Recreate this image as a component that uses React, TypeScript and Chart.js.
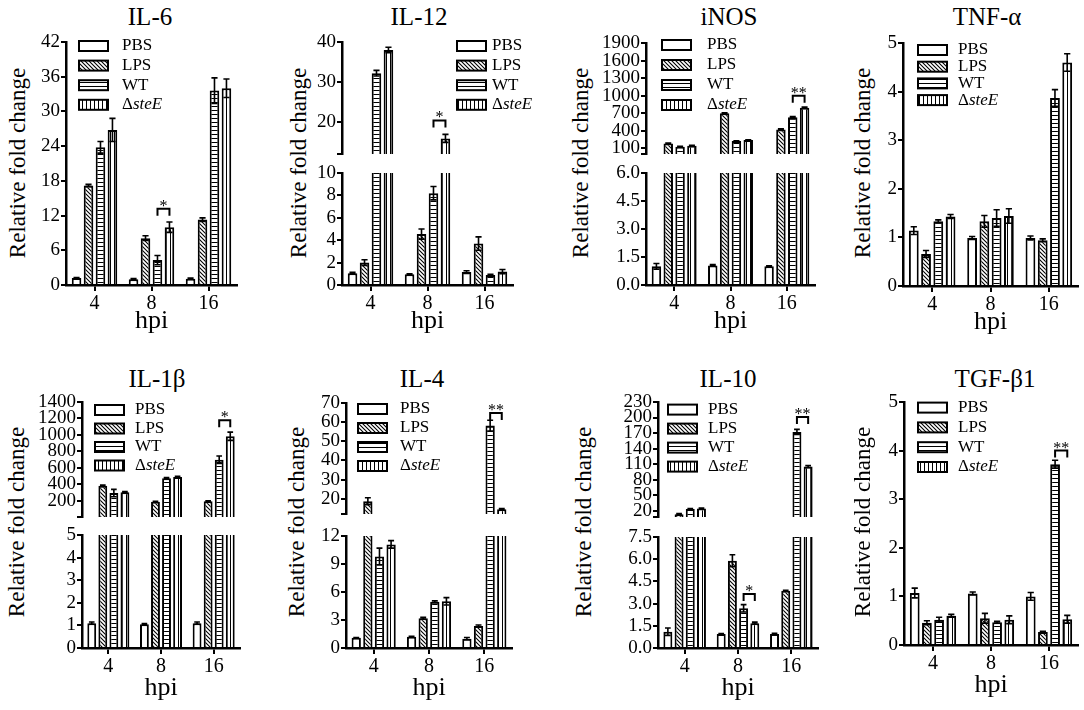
import React, { useEffect, useRef } from 'react';
import { Chart, registerables } from 'chart.js';

Chart.register(...registerables);

const FONT = "'Liberation Serif', 'Tinos', 'Times New Roman', 'DejaVu Serif', serif";
Chart.defaults.font.family = FONT;
Chart.defaults.color = '#000';

const hpi = ['4', '8', '16'];
const groups = ['PBS', 'LPS', 'WT', 'ΔsteE'];

// rows: PBS, LPS, WT, ΔsteE  -  columns: 4, 8, 16 hpi
const il6Means = [[1.2, 1.0, 1.1], [17.2, 8.1, 11.3], [23.8, 4.3, 33.6], [26.8, 10.0, 34.0]];
const il6Errors = [[0.1, 0.1, 0.1], [0.2, 0.4, 0.3], [1.0, 0.8, 2.2], [2.0, 0.9, 1.6]];
const il6Ticks = [0, 6, 12, 18, 24, 30, 36, 42];
const il6Sig = [{ group: 1, at: 13.2, mark: '*' }];

const il12Means = [[1.05, 0.95, 1.15], [2.0, 4.55, 3.7], [32.2, 8.2, 0.9], [38.0, 15.9, 1.2]];
const il12Errors = [[0.08, 0.05, 0.12], [0.25, 0.45, 0.6], [0.7, 0.6, 0.05], [0.7, 1.0, 0.18]];
const il12TopTicks = [20, 30, 40];
const il12BottomTicks = [0, 2, 4, 6, 8, 10];
const il12Sig = [{ group: 1, at: 20.4, mark: '*' }];

const inosMeans = [[1.0, 1.05, 1.0], [186, 700, 426], [130, 226, 631], [148, 243, 797]];
const inosErrors = [[0.15, 0.04, 0.03], [6, 10, 10], [6, 5, 12], [6, 5, 10]];
const inosTopTicks = [100, 400, 700, 1000, 1300, 1600, 1900];
const inosBottomTicks = [0, 1.5, 3.0, 4.5, 6.0];
const inosSig = [{ group: 2, at: 1000, mark: '**' }];

const tnfMeans = [[1.14, 0.99, 0.99], [0.66, 1.33, 0.94], [1.33, 1.40, 3.87], [1.43, 1.44, 4.60]];
const tnfErrors = [[0.08, 0.03, 0.04], [0.07, 0.12, 0.03], [0.03, 0.17, 0.17], [0.04, 0.15, 0.18]];
const tnfTicks = [0, 1, 2, 3, 4, 5];

const il1bMeans = [[1.1, 1.05, 1.1], [385, 190, 195], [295, 475, 700], [305, 490, 985]];
const il1bErrors = [[0.05, 0.03, 0.05], [8, 5, 5], [45, 10, 45], [8, 8, 50]];
const il1bTopTicks = [200, 400, 600, 800, 1000, 1200, 1400];
const il1bBottomTicks = [0, 1, 2, 3, 4, 5];
const il1bSig = [{ group: 2, at: 1180, mark: '*' }];

const il4Means = [[1.1, 1.2, 1.0], [18.7, 3.2, 2.35], [9.8, 4.95, 58.2], [11.1, 5.0, 14.5]];
const il4Errors = [[0.03, 0.05, 0.12], [1.8, 0.1, 0.12], [0.9, 0.1, 2.8], [0.4, 0.4, 0.3]];
const il4TopTicks = [20, 30, 40, 50, 60, 70];
const il4BottomTicks = [0, 3, 6, 9, 12];
const il4Sig = [{ group: 2, at: 64.8, mark: '**' }];

const il10Means = [[1.1, 0.95, 0.95], [13, 5.9, 3.87], [23, 2.68, 172], [24, 1.68, 105]];
const il10Errors = [[0.25, 0.03, 0.05], [1, 0.4, 0.03], [1, 0.25, 5], [1, 0.07, 2]];
const il10TopTicks = [20, 50, 80, 110, 140, 170, 200, 230];
const il10BottomTicks = [0, 1.5, 3.0, 4.5, 6.0, 7.5];
const il10Sig = [{ group: 1, at: 3.65, mark: '*' }, { group: 2, at: 201, mark: '**' }];

const tgfMeans = [[1.07, 1.06, 1.0], [0.46, 0.55, 0.27], [0.52, 0.47, 3.72], [0.60, 0.52, 0.53]];
const tgfErrors = [[0.1, 0.03, 0.08], [0.04, 0.1, 0.01], [0.05, 0.02, 0.08], [0.03, 0.08, 0.08]];
const tgfTicks = [0, 1, 2, 3, 4, 5];
const tgfSig = [{ group: 2, at: 4.0, mark: '**' }];

type Sig = { group: number; at: number; mark: string };
type Seg = { ticks: number[]; floor?: number; decimals?: number; top: number; bottom: number };
type Legend = { dx: number; dy: number; gap: number; textDx: number };
type Panel = {
  title: string; tx: number; ty: number; yx: number; yy: number;
  axisX: number; right: number; xH: number;
  means: number[][]; errors: number[][]; sig: Sig[]; segs: Seg[]; legend: Legend;
};

const Y_W = 58;
const PAD_T = 14;
const PAD_B = 14;
const PAD_R = 34;

const panels: Panel[] = [
  {
    title: 'IL-6', tx: 150, ty: 16, yx: 17, yy: 163, axisX: 66, right: 237, xH: 52,
    means: il6Means, errors: il6Errors, sig: il6Sig,
    segs: [{ ticks: il6Ticks, top: 42, bottom: 285 }],
    legend: { dx: 13, dy: 4, gap: 19.6, textDx: 43 },
  },
  {
    title: 'IL-12', tx: 419, ty: 16, yx: 298, yy: 163, axisX: 342, right: 513, xH: 52,
    means: il12Means, errors: il12Errors, sig: il12Sig,
    segs: [
      { ticks: il12TopTicks, floor: 12, top: 42, bottom: 154 },
      { ticks: il12BottomTicks, top: 173, bottom: 285 },
    ],
    legend: { dx: 115, dy: 4, gap: 19.6, textDx: 35 },
  },
  {
    title: 'iNOS', tx: 729, ty: 16, yx: 580, yy: 163, axisX: 646, right: 815, xH: 52,
    means: inosMeans, errors: inosErrors, sig: inosSig,
    segs: [
      { ticks: inosTopTicks, floor: 6, top: 43, bottom: 154 },
      { ticks: inosBottomTicks, decimals: 1, top: 173, bottom: 285 },
    ],
    legend: { dx: 16, dy: 2, gap: 20, textDx: 45 },
  },
  {
    title: 'TNF-α', tx: 987, ty: 16, yx: 862, yy: 163, axisX: 903, right: 1078, xH: 52,
    means: tnfMeans, errors: tnfErrors, sig: [],
    segs: [{ ticks: tnfTicks, top: 43, bottom: 286 }],
    legend: { dx: 15, dy: 7, gap: 16.7, textDx: 40 },
  },
  {
    title: 'IL-1β', tx: 157, ty: 378, yx: 16, yy: 522, axisX: 82, right: 240, xH: 56,
    means: il1bMeans, errors: il1bErrors, sig: il1bSig,
    segs: [
      { ticks: il1bTopTicks, floor: 5, top: 402, bottom: 517 },
      { ticks: il1bBottomTicks, top: 535, bottom: 648 },
    ],
    legend: { dx: 13, dy: 8, gap: 18.5, textDx: 40 },
  },
  {
    title: 'IL-4', tx: 422, ty: 378, yx: 296, yy: 522, axisX: 346, right: 512, xH: 56,
    means: il4Means, errors: il4Errors, sig: il4Sig,
    segs: [
      { ticks: il4TopTicks, floor: 12, top: 403, bottom: 514 },
      { ticks: il4BottomTicks, top: 536, bottom: 648 },
    ],
    legend: { dx: 12, dy: 6, gap: 19, textDx: 42 },
  },
  {
    title: 'IL-10', tx: 728, ty: 378, yx: 583, yy: 522, axisX: 658, right: 818, xH: 56,
    means: il10Means, errors: il10Errors, sig: il10Sig,
    segs: [
      { ticks: il10TopTicks, floor: 7.5, top: 402, bottom: 517 },
      { ticks: il10BottomTicks, decimals: 1, top: 537, bottom: 648 },
    ],
    legend: { dx: 10, dy: 7.6, gap: 19, textDx: 40 },
  },
  {
    title: 'TGF-β1', tx: 995, ty: 378, yx: 862, yy: 522, axisX: 904, right: 1078, xH: 56,
    means: tgfMeans, errors: tgfErrors, sig: tgfSig,
    segs: [{ ticks: tgfTicks, top: 402, bottom: 645 }],
    legend: { dx: 14, dy: 5.6, gap: 19.8, textDx: 40 },
  },
];

// white, diagonal, horizontal, vertical hatching
function makeFill(kind: number): CanvasPattern | string {
  if (kind === 0) return '#fff';
  const c = document.createElement('canvas');
  c.width = 4;
  c.height = 4;
  const g = c.getContext('2d')!;
  g.fillStyle = '#fff';
  g.fillRect(0, 0, 4, 4);
  g.fillStyle = '#000';
  g.strokeStyle = '#000';
  if (kind === 1) {
    g.lineWidth = 1.1;
    g.beginPath();
    g.moveTo(-1, -1); g.lineTo(5, 5);
    g.moveTo(-1, 3); g.lineTo(1, 5);
    g.moveTo(3, -1); g.lineTo(5, 1);
    g.stroke();
  } else if (kind === 2) {
    g.fillRect(0, 2, 4, 1);
  } else {
    g.fillRect(2, 0, 1, 4);
  }
  return g.createPattern(c, 'repeat')!;
}

function SegmentChart({ panel, seg, showX, withLegend }: { panel: Panel; seg: Seg; showX: boolean; withLegend: boolean }) {
  const ref = useRef<HTMLCanvasElement>(null);
  const left = panel.axisX - Y_W;
  const top = seg.top - PAD_T;
  const width = panel.right - panel.axisX + Y_W + PAD_R;
  const height = PAD_T + (seg.bottom - seg.top) + (showX ? panel.xH : PAD_B);

  useEffect(() => {
    const canvas = ref.current;
    if (!canvas) return;
    const fills = [0, 1, 2, 3].map(makeFill);
    const lo = seg.floor ?? seg.ticks[0];
    const hi = seg.ticks[seg.ticks.length - 1];
    const tickVals = seg.floor !== undefined ? [seg.floor, ...seg.ticks] : seg.ticks;
    const sigs = panel.sig.filter((s) => s.at >= lo && s.at <= hi);

    const marks = {
      id: 'marks',
      afterDatasetsDraw(chart: any) {
        const { ctx, chartArea } = chart;
        const y = chart.scales.y;
        ctx.save();
        ctx.beginPath();
        ctx.rect(chartArea.left, chartArea.top, chartArea.right - chartArea.left, chartArea.bottom - chartArea.top);
        ctx.clip();
        ctx.strokeStyle = '#000';
        ctx.lineWidth = 1.6;
        panel.means.forEach((row, i) => {
          const meta = chart.getDatasetMeta(i);
          row.forEach((m, j) => {
            const bar = meta.data[j];
            if (!bar || m <= lo) return;
            const e = panel.errors[i][j];
            const yHi = y.getPixelForValue(m + e);
            const yLo = y.getPixelForValue(m - e);
            const half = bar.width * 0.32;
            ctx.beginPath();
            ctx.moveTo(bar.x, yLo);
            ctx.lineTo(bar.x, yHi);
            ctx.moveTo(bar.x - half, yHi);
            ctx.lineTo(bar.x + half, yHi);
            ctx.moveTo(bar.x - half, yLo);
            ctx.lineTo(bar.x + half, yLo);
            ctx.stroke();
          });
        });
        ctx.restore();

        ctx.save();
        ctx.strokeStyle = '#000';
        ctx.fillStyle = '#000';
        ctx.lineWidth = 2;
        sigs.forEach((s) => {
          const a = chart.getDatasetMeta(2).data[s.group];
          const b = chart.getDatasetMeta(3).data[s.group];
          const py = y.getPixelForValue(s.at);
          ctx.beginPath();
          ctx.moveTo(a.x, py + 7);
          ctx.lineTo(a.x, py);
          ctx.lineTo(b.x, py);
          ctx.lineTo(b.x, py + 7);
          ctx.stroke();
          ctx.font = `16px ${FONT}`;
          ctx.textAlign = 'center';
          ctx.textBaseline = 'alphabetic';
          ctx.fillText(s.mark, (a.x + b.x) / 2, py + 2);
        });
        ctx.restore();
      },
      afterDraw(chart: any) {
        if (!withLegend) return;
        const { ctx, chartArea } = chart;
        const lg = panel.legend;
        const x0 = chartArea.left + lg.dx;
        ctx.save();
        groups.forEach((name, i) => {
          const yc = chartArea.top + lg.dy + i * lg.gap;
          ctx.fillStyle = fills[i];
          ctx.fillRect(x0, yc - 5, 29, 10);
          ctx.strokeStyle = '#000';
          ctx.lineWidth = 2;
          ctx.strokeRect(x0, yc - 5, 29, 10);
          ctx.fillStyle = '#000';
          ctx.textAlign = 'left';
          ctx.textBaseline = 'middle';
          const tx = x0 + lg.textDx;
          if (name.startsWith('Δ')) {
            ctx.font = `17px ${FONT}`;
            ctx.fillText('Δ', tx, yc);
            const w = ctx.measureText('Δ').width;
            ctx.font = `italic 17px ${FONT}`;
            ctx.fillText(name.slice(1), tx + w, yc);
          } else {
            ctx.font = `17px ${FONT}`;
            ctx.fillText(name, tx, yc);
          }
        });
        ctx.restore();
      },
    };

    const chart = new Chart(canvas, {
      type: 'bar',
      data: {
        labels: hpi,
        datasets: groups.map((g, i) => ({
          label: g,
          // a segment above the axis break only shows bars that reach into it
          data: panel.means[i].map((v) => (v > lo ? v : null)),
          backgroundColor: fills[i],
          borderColor: '#000',
          borderWidth: 2,
          inflateAmount: 0,
          clip: 0,
          categoryPercentage: 0.84,
          barPercentage: 0.8,
        })),
      },
      options: {
        animation: false,
        responsive: false,
        events: [],
        layout: { padding: { top: PAD_T, bottom: showX ? 0 : PAD_B, left: 0, right: PAD_R } },
        plugins: { legend: { display: false }, tooltip: { enabled: false } },
        scales: {
          x: {
            display: showX,
            offset: true,
            grid: { offset: false, drawOnChartArea: false, drawTicks: true, tickLength: 6, color: '#000', lineWidth: 2 },
            border: { display: true, color: '#000', width: 2.5 },
            ticks: { font: { size: 20 }, color: '#000', padding: 1, maxRotation: 0, autoSkip: false },
            title: { display: true, text: 'hpi', font: { size: 26 }, color: '#000', padding: 0 },
            afterFit: (s: any) => { if (showX) s.height = panel.xH; },
          },
          y: {
            min: lo,
            max: hi,
            afterBuildTicks: (s: any) => { s.ticks = tickVals.map((v) => ({ value: v })); },
            afterFit: (s: any) => { s.width = Y_W; },
            grid: { drawOnChartArea: false, drawTicks: true, tickLength: 5, color: '#000', lineWidth: 2 },
            border: { display: true, color: '#000', width: 2.5 },
            ticks: {
              autoSkip: false,
              font: { size: 19 },
              color: '#000',
              padding: 1,
              callback: (v: any) => {
                if (seg.floor !== undefined && v === seg.floor) return '';
                return seg.decimals ? Number(v).toFixed(seg.decimals) : String(v);
              },
            },
          },
        },
      },
      plugins: [marks],
    } as any);

    return () => chart.destroy();
  }, [panel, seg, showX, withLegend]);

  return (
    <canvas
      ref={ref}
      width={width}
      height={height}
      style={{ position: 'absolute', left, top, width, height }}
    />
  );
}

const textStyle: React.CSSProperties = {
  position: 'absolute',
  fontFamily: FONT,
  color: '#000',
  whiteSpace: 'nowrap',
  lineHeight: 1,
};

export default function App() {
  return (
    <div style={{ position: 'absolute', left: 0, top: 0, width: 1084, height: 710, background: '#fff', overflow: 'hidden' }}>
      {panels.map((p) => (
        <React.Fragment key={p.title}>
          <div style={{ ...textStyle, left: p.tx, top: p.ty, fontSize: 25, transform: 'translate(-50%, -50%)' }}>{p.title}</div>
          <div style={{ ...textStyle, left: p.yx, top: p.yy, fontSize: 23, transform: 'translate(-50%, -50%) rotate(-90deg)' }}>
            Relative fold change
          </div>
          {p.segs.map((s, i) => (
            <SegmentChart key={i} panel={p} seg={s} showX={i === p.segs.length - 1} withLegend={i === 0} />
          ))}
        </React.Fragment>
      ))}
    </div>
  );
}
